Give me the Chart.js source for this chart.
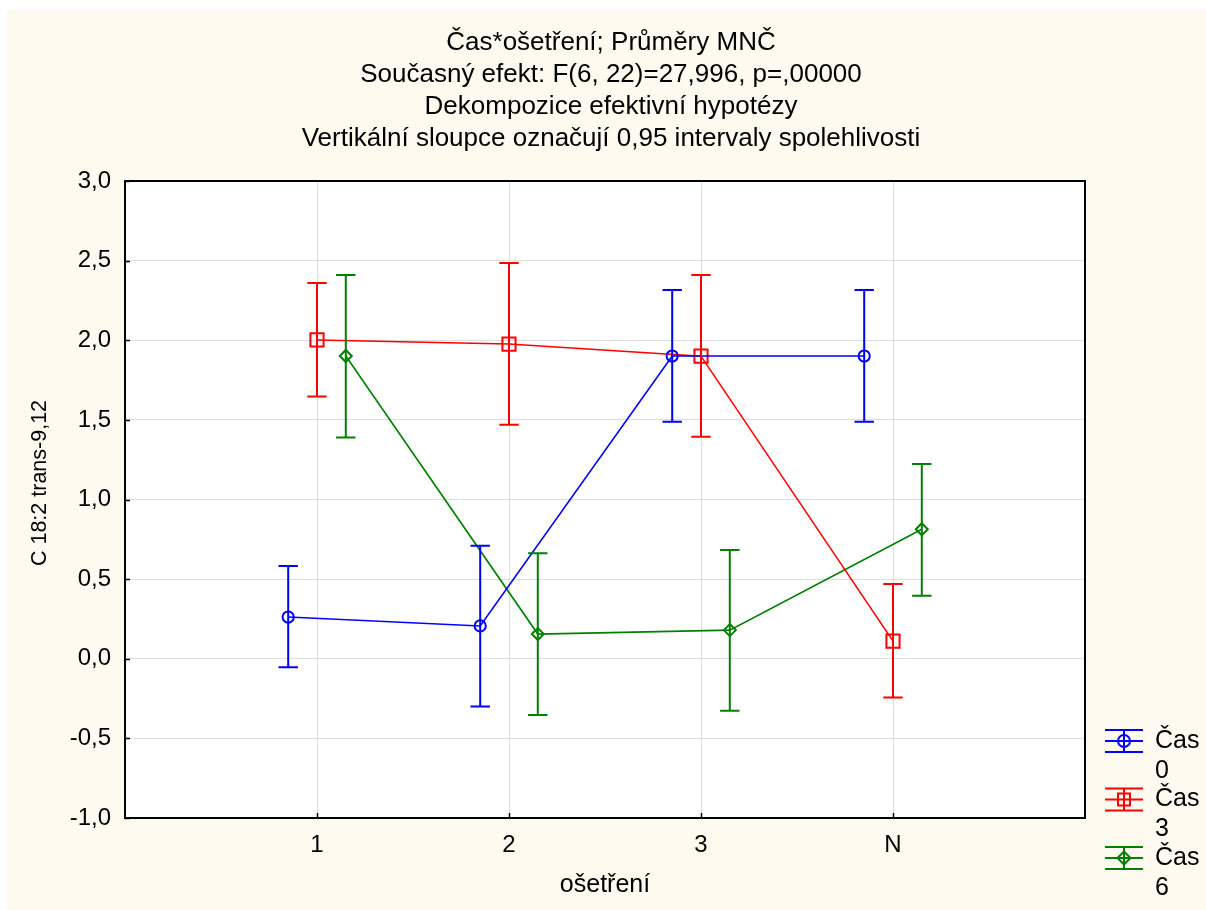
<!DOCTYPE html>
<html><head><meta charset="utf-8">
<script src="https://cdn.jsdelivr.net/npm/chart.js@4/dist/chart.umd.min.js"></script>
<style>html,body{margin:0;padding:0;background:#fff;}#wrap{position:absolute;left:0;top:0;width:1206px;height:910px;}</style>
</head><body><div id="wrap"><canvas id="c" width="1206" height="910"></canvas></div>
<script>
const categories = ['1', '2', '3', 'N'];
const seriesNames = ['Čas 0', 'Čas 3', 'Čas 6'];
const seriesColors = ['#0000ff', '#ff0000', '#008000'];
const seriesMarkers = ['circle', 'rect', 'rectRot'];
const seriesOffsets = [-0.15, 0, 0.15];
const means0 = [0.262, 0.206, 1.901, 1.901];
const lower0 = [-0.054, -0.300, 1.489, 1.489];
const upper0 = [0.582, 0.710, 2.316, 2.316];
const means3 = [2.002, 1.976, 1.900, 0.111];
const lower3 = [1.646, 1.469, 1.394, -0.244];
const upper3 = [2.360, 2.485, 2.410, 0.469];
const means6 = [1.901, 0.155, 0.180, 0.813];
const lower6 = [1.390, -0.353, -0.326, 0.396];
const upper6 = [2.410, 0.662, 0.683, 1.223];
const yTicks = [-1, -0.5, 0, 0.5, 1, 1.5, 2, 2.5, 3];
const titleLines = ['Čas*ošetření; Průměry MNČ', 'Současný efekt: F(6, 22)=27,996, p=,00000', 'Dekompozice efektivní hypotézy', 'Vertikální sloupce označují 0,95 intervaly spolehlivosti'];
const xTitle = 'ošetření';
const yTitle = 'C 18:2 trans-9,12';

const FONT = '"Liberation Sans", Arial, sans-serif';
const allMeans = [means0, means3, means6];
const allLower = [lower0, lower3, lower6];
const allUpper = [upper0, upper3, upper6];
const radii = [5.6, 9.3, 6];

const datasets = seriesNames.map((name, s) => ({
  label: name,
  data: allMeans[s].map((v, i) => ({x: i + 1 + seriesOffsets[s], y: v})),
  borderColor: seriesColors[s],
  backgroundColor: 'rgba(0,0,0,0)',
  borderWidth: 1.6,
  pointStyle: seriesMarkers[s],
  pointRadius: radii[s],
  pointBorderWidth: 2,
  pointBorderColor: seriesColors[s],
  pointBackgroundColor: 'rgba(0,0,0,0)',
  tension: 0,
  errLow: allLower[s],
  errHigh: allUpper[s]
}));

const decor = {
  id: 'decor',
  beforeDraw(chart) {
    const ctx = chart.ctx, a = chart.chartArea;
    ctx.save();
    ctx.fillStyle = '#ffffff';
    ctx.fillRect(0, 0, chart.width, chart.height);
    ctx.fillStyle = '#fffaf0';
    ctx.fillRect(7, 10, chart.width - 7, chart.height - 10);
    ctx.fillStyle = '#ffffff';
    ctx.fillRect(a.left, a.top, a.right - a.left, a.bottom - a.top);
    ctx.restore();
  },
  afterDatasetsDraw(chart) {
    const ctx = chart.ctx, xs = chart.scales.x, ys = chart.scales.y;
    ctx.save();
    chart.data.datasets.forEach((ds, s) => {
      ctx.strokeStyle = ds.borderColor;
      ctx.lineWidth = 2;
      ds.data.forEach((p, i) => {
        const px = xs.getPixelForValue(p.x);
        const yl = ys.getPixelForValue(ds.errLow[i]);
        const yh = ys.getPixelForValue(ds.errHigh[i]);
        ctx.beginPath();
        ctx.moveTo(px, yl); ctx.lineTo(px, yh);
        ctx.moveTo(px - 9.7, yl); ctx.lineTo(px + 9.7, yl);
        ctx.moveTo(px - 9.7, yh); ctx.lineTo(px + 9.7, yh);
        ctx.stroke();
      });
    });
    ctx.restore();
  },
  afterDraw(chart) {
    const ctx = chart.ctx, a = chart.chartArea, xs = chart.scales.x, ys = chart.scales.y;
    ctx.save();
    // frame
    ctx.strokeStyle = '#000';
    ctx.lineWidth = 2;
    ctx.strokeRect(a.left, a.top, a.right - a.left, a.bottom - a.top);
    ctx.lineWidth = 1.5;
    ctx.beginPath();
    [1, 2, 3, 4].forEach(v => {
      const px = Math.round(xs.getPixelForValue(v)) + 0.5;
      ctx.moveTo(px, a.bottom); ctx.lineTo(px, a.bottom - 5);
    });
    yTicks.forEach(v => {
      const py = Math.round(ys.getPixelForValue(v)) + 0.5;
      ctx.moveTo(a.left, py); ctx.lineTo(a.left + 5, py);
    });
    ctx.stroke();
    ctx.fillStyle = '#000';
    // y axis title
    ctx.save();
    ctx.translate(40, 483);
    ctx.rotate(-Math.PI / 2);
    ctx.font = '21.5px ' + FONT;
    ctx.textAlign = 'center';
    ctx.textBaseline = 'middle';
    ctx.fillText(yTitle, 0, 0);
    ctx.restore();
    // titles
    ctx.font = '26px ' + FONT;
    ctx.textAlign = 'center';
    ctx.textBaseline = 'middle';
    titleLines.forEach((t, i) => ctx.fillText(t, 611, 43 + i * 32));
    // legend
    chart.data.datasets.forEach((ds, s) => {
      const cy = 741 + s * 58.5;
      const cx = 1124;
      ctx.strokeStyle = ds.borderColor;
      ctx.lineWidth = 2;
      ctx.beginPath();
      [-11, 0, 11].forEach(d => { ctx.moveTo(1105, cy + d); ctx.lineTo(1143, cy + d); });
      ctx.moveTo(cx, cy - 11); ctx.lineTo(cx, cy + 11);
      ctx.stroke();
      ctx.beginPath();
      if (ds.pointStyle === 'circle') ctx.arc(cx, cy, 6, 0, Math.PI * 2);
      else if (ds.pointStyle === 'rect') ctx.rect(cx - 6, cy - 6, 12, 12);
      else { ctx.moveTo(cx, cy - 6.5); ctx.lineTo(cx + 6.5, cy); ctx.lineTo(cx, cy + 6.5); ctx.lineTo(cx - 6.5, cy); ctx.closePath(); }
      ctx.stroke();
      const parts = ds.label.split(' ');
      ctx.fillStyle = '#000';
      ctx.font = '25px ' + FONT;
      ctx.textAlign = 'left';
      ctx.fillText(parts[0], 1155, cy);
      ctx.fillText(parts[1], 1155, cy + 30);
    });
    ctx.restore();
  }
};

new Chart(document.getElementById('c'), {
  type: 'line',
  data: {datasets},
  options: {
    responsive: false,
    animation: false,
    layout: {padding: {top: 181, left: 0, right: 121, bottom: 0}},
    plugins: {legend: {display: false}, tooltip: {enabled: false}, title: {display: false}},
    scales: {
      x: {
        type: 'linear', min: 0, max: 5,
        afterBuildTicks: s => { s.ticks = [1, 2, 3, 4].map(v => ({value: v})); },
        afterFit: s => { s.height = 92; },
        ticks: {callback: v => categories[v - 1], color: '#000', font: {size: 24, family: FONT}, padding: 13, maxRotation: 0, autoSkip: false},
        grid: {color: '#dedede', lineWidth: 1, drawTicks: false},
        border: {display: false},
        title: {display: true, text: xTitle, color: '#000', font: {size: 25, family: FONT}, padding: {top: 0, bottom: 10}}
      },
      y: {
        min: -1, max: 3,
        afterBuildTicks: s => { s.ticks = yTicks.map(v => ({value: v})); },
        afterFit: s => { s.width = 125; },
        ticks: {callback: v => v.toFixed(1).replace('.', ','), color: '#000', font: {size: 24, family: FONT}, padding: 14},
        grid: {color: '#dedede', lineWidth: 1, drawTicks: false},
        border: {display: false},
        title: {display: false}
      }
    }
  },
  plugins: [decor]
});
</script></body></html>
